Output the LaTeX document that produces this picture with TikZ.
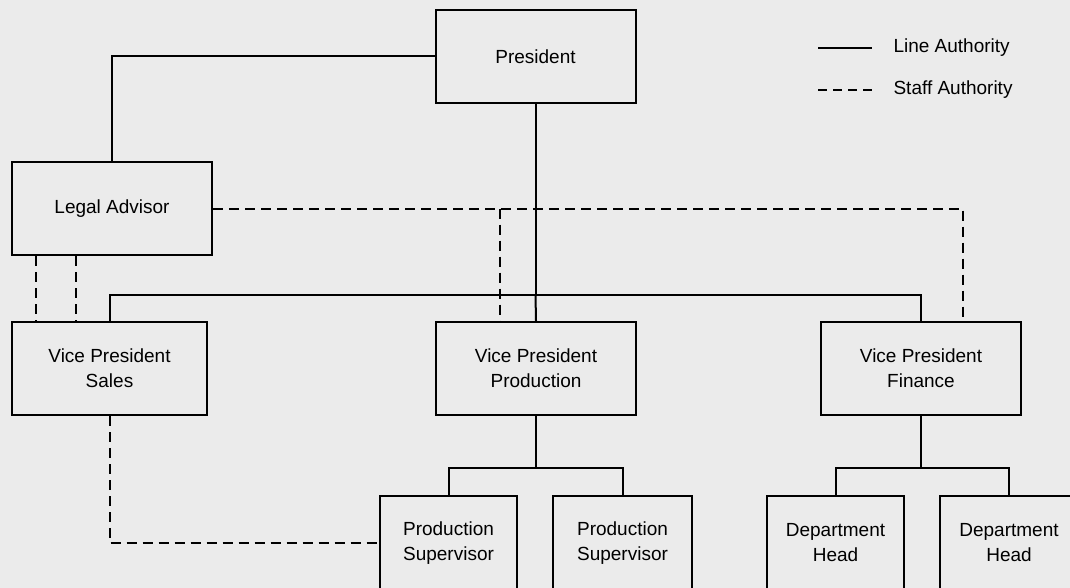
\documentclass[tikz,border=0pt]{standalone}
\usepackage{fontspec}
\setmainfont{Liberation Sans}
\usetikzlibrary{positioning, calc}

\definecolor{paper}{HTML}{EBEBEB}

\begin{document}
\begin{tikzpicture}[x=1pt, y=-1pt,
        post/.style={shape=rectangle, draw=black, line width=2pt, align=center,
            font=\fontsize{19}{25}\selectfont, minimum width=200pt, minimum height=93pt},
        lowpost/.style={post, minimum width=137pt, minimum height=94pt},
        line/.style={line width=2pt},
        staff/.style={line width=2pt, dash pattern=on 10pt off 6pt}]
        \useasboundingbox (0,0) rectangle (1070,588);
        \fill[paper] (0,0) rectangle (1070,588);
        \clip (0,0) rectangle (1070,588);

        \node[post] (pres) at (535.5,56.5) {President};
        \node[post] (legal) at (112,208.5) {Legal Advisor};
        \node[post, minimum width=195pt] (vps) at (109.5,368.5) {Vice President\\Sales};
        \node[post] (vpp) at (536,368.5) {Vice President\\Production};
        \node[post] (vpf) at (921,368.5) {Vice President\\Finance};
        \node[lowpost] (ps1) at (448.5,543) {Production\\Supervisor};
        \node[lowpost, minimum width=139pt] (ps2) at (622.5,543) {Production\\Supervisor};
        \node[lowpost] (dh1) at (835.5,543) {Department\\Head};
        \node[lowpost, minimum width=138pt] (dh2) at (1009,543) {Department\\Head};

        \coordinate (bus) at (535.5,295);
        \coordinate (pbus) at (536,468);
        \coordinate (fbus) at (921,468);
        \coordinate (staffx) at (500,208.5);
        \coordinate (staffe) at (963,208.5);

        % line authority
        \draw[line] (pres.west) -| (legal.north);
        \draw[line] (pres.south) -- (bus);
        \draw[line] (vps.north) |- (bus) -| (vpf.north);
        \draw[line] (bus) -- (vpp.north);
        \draw[line] (vpp.south) -- (pbus);
        \draw[line] (ps1.north) |- (pbus) -| (ps2.north);
        \draw[line] (vpf.south) -- (fbus);
        \draw[line] (dh1.north) |- (fbus) -| (dh2.north);

        % staff authority
        \draw[staff] (legal.east) -- (staffe) -- (staffe |- vpf.north);
        \draw[staff] (staffx) -- (staffx |- vpp.north);
        \draw[staff] (legal.south) ++(-76,0) -- ++(0,67);
        \draw[staff] (legal.south) ++(-36,0) -- ++(0,67);
        \draw[staff] (vps.south) |- (ps1.west);

        % legend
        \coordinate (la) at (818,48);
        \coordinate (lb) at (872,48);
        \coordinate (sa) at (818,90);
        \coordinate (sb) at (872,90);
        \draw[line] (la) -- (lb);
        \draw[staff, dash pattern=on 9pt off 6pt] (sa) -- (sb);
        \node[anchor=west, font=\fontsize{19}{25}\selectfont] (lt) at ([xshift=18pt]lb) {Line Authority};
        \node[anchor=west, font=\fontsize{19}{25}\selectfont] (st) at ([xshift=18pt]sb) {Staff Authority};
    \end{tikzpicture}
\end{document}
